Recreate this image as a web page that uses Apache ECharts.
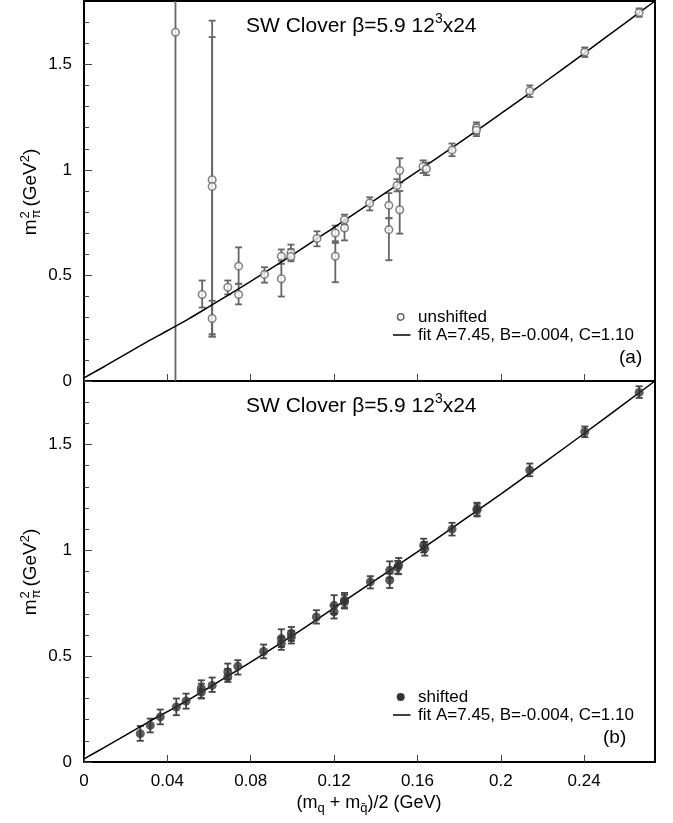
<!DOCTYPE html>
<html><head><meta charset="utf-8">
<script src="https://cdn.jsdelivr.net/npm/echarts@6/dist/echarts.min.js"></script>
<style>html,body{margin:0;padding:0;background:#fff}#c{width:673px;height:823px}</style>
</head><body><div id="c"></div>
<script>
// ---------- data ----------
const unshiftedX  = [0.0439,0.0567,0.0615,0.0615,0.0615,0.069,0.0742,0.0742,0.0866,0.0947,0.0947,0.0993,0.0993,0.1118,0.1206,0.1206,0.125,0.125,0.1371,0.1463,0.1463,0.1502,0.1515,0.1515,0.1627,0.1643,0.1766,0.1883,0.1883,0.2139,0.2403,0.2664];
const unshiftedY  = [1.652,0.41,0.953,0.921,0.296,0.444,0.544,0.41,0.505,0.591,0.484,0.607,0.59,0.675,0.701,0.591,0.764,0.725,0.843,0.832,0.717,0.926,0.997,0.811,1.016,1.005,1.094,1.2,1.188,1.374,1.558,1.745];
const unshiftedLo = [-0.5,0.348,0.21,0.222,0.211,0.41,0.461,0.363,0.466,0.555,0.4,0.575,0.567,0.638,0.662,0.468,0.74,0.666,0.808,0.771,0.572,0.898,0.94,0.698,0.985,0.975,1.065,1.17,1.16,1.345,1.535,1.725];
const unshiftedHi = [3.5,0.476,1.707,1.629,0.38,0.476,0.633,0.46,0.539,0.623,0.57,0.646,0.625,0.709,0.736,0.654,0.788,0.76,0.87,0.89,0.771,0.956,1.055,0.9,1.045,1.035,1.125,1.225,1.215,1.4,1.58,1.765];

const shiftedX  = [0.027,0.0318,0.0366,0.0443,0.049,0.0563,0.0563,0.0615,0.069,0.069,0.0738,0.0862,0.0947,0.0947,0.0995,0.0995,0.1115,0.12,0.12,0.125,0.125,0.1374,0.1467,0.1467,0.151,0.1505,0.163,0.1635,0.1766,0.1886,0.1886,0.2139,0.2403,0.2664];
const shiftedY  = [0.134,0.173,0.213,0.26,0.288,0.347,0.33,0.362,0.425,0.402,0.452,0.522,0.583,0.56,0.607,0.59,0.685,0.74,0.709,0.764,0.756,0.851,0.906,0.859,0.93,0.92,1.024,1.008,1.1,1.197,1.19,1.379,1.56,1.746];
const shiftedLo = [0.1,0.14,0.178,0.221,0.252,0.302,0.3,0.331,0.39,0.378,0.413,0.49,0.543,0.53,0.572,0.56,0.654,0.7,0.678,0.725,0.73,0.82,0.87,0.822,0.887,0.89,0.99,0.975,1.07,1.165,1.16,1.35,1.535,1.72];
const shiftedHi = [0.17,0.205,0.248,0.3,0.323,0.386,0.37,0.399,0.465,0.44,0.481,0.555,0.627,0.59,0.638,0.62,0.717,0.788,0.74,0.799,0.79,0.878,0.948,0.89,0.964,0.95,1.055,1.04,1.13,1.225,1.22,1.41,1.585,1.775];

const fitX = [0,0.01,0.02,0.03,0.04,0.05,0.06,0.07,0.08,0.1,0.12,0.14,0.16,0.18,0.2,0.22,0.24,0.26,0.274];
const fitY = [0.015,0.07,0.127,0.184,0.238,0.293,0.352,0.412,0.472,0.597,0.728,0.86,0.993,1.128,1.266,1.408,1.552,1.698,1.80];

const xTicks = [0,0.04,0.08,0.12,0.16,0.2,0.24];
const yTicks = [0,0.5,1,1.5];
const yMinorTicks = [0.1,0.2,0.3,0.4,0.6,0.7,0.8,0.9,1.1,1.2,1.3,1.4,1.6,1.7];

const titleText = ['SW Clover \u03b2=5.9 12','3','x24'];
const legendUnshifted = 'unshifted';
const legendShifted = 'shifted';
const legendFit = 'fit A=7.45, B=-0.004, C=1.10';

// ---------- helpers ----------
const FONT = '"Liberation Sans", Arial, Helvetica, sans-serif';
const mctx = document.createElement('canvas').getContext('2d');
function tw(t, s){ mctx.font = s + 'px ' + FONT; return mctx.measureText(t).width; }
function txt(t, x, y, s, extra){
  return Object.assign({type:'text', x:x, y:y, silent:true,
    style:{text:t, fill:'#000', font: s + 'px ' + FONT, align:'left', verticalAlign:'middle'}}, extra||{});
}
function row(list, x0, y0){
  let x = x0; const out = [];
  for (const p of list){
    out.push(txt(p.t, x + (p.dx||0), y0 + (p.dy||0), p.s));
    if (p.adv !== false) x += (p.w != null ? p.w : tw(p.t, p.s));
  }
  return out;
}
function rowWidth(list){ let t=0; for (const p of list){ if (p.adv !== false) t += (p.w != null ? p.w : tw(p.t, p.s)); } return t; }
function zip3(a,b,c){ return a.map((v,i)=>[v,b[i],c[i]]); }
function zip2(a,b){ return a.map((v,i)=>[v,b[i]]); }

function errRender(color, capHalf, lw){
  return function(params, api){
    const x = api.value(0), lo = api.value(1), hi = api.value(2);
    const a = api.coord([x, lo]), b = api.coord([x, hi]);
    const s = {stroke: color, lineWidth: lw};
    return {type:'group', children:[
      {type:'line', shape:{x1:a[0], y1:a[1], x2:b[0], y2:b[1]}, style:s},
      {type:'line', shape:{x1:a[0]-capHalf, y1:a[1], x2:a[0]+capHalf, y2:a[1]}, style:s},
      {type:'line', shape:{x1:b[0]-capHalf, y1:b[1], x2:b[0]+capHalf, y2:b[1]}, style:s}
    ]};
  };
}

const GL = 84, GW = 571;
const grids = [
  {left: GL, top: 1, width: GW, height: 380, show:true, borderColor:'#000', borderWidth:2, backgroundColor:'transparent'},
  {left: GL, top: 381, width: GW, height: 381, show:true, borderColor:'#000', borderWidth:2, backgroundColor:'transparent'}
];
function xAx(g, labels){
  return {type:'value', gridIndex:g, min:0, max:0.274,
    axisLine:{show:true, onZero:false, lineStyle:{color:'#000', width:2}},
    axisTick:{show:true, inside:true, length:7, customValues:xTicks, lineStyle:{color:'#444', width:1}},
    axisLabel:{show:labels, customValues:xTicks, fontSize:17, color:'#000', fontFamily:FONT, margin:11},
    splitLine:{show:false}};
}
function yAx(g){
  return {type:'value', gridIndex:g, min:0, max:1.8, position:'left',
    axisLine:{show:true, onZero:false, lineStyle:{color:'#000', width:2}},
    axisTick:{show:true, inside:true, length:8, customValues:yTicks, lineStyle:{color:'#444', width:1}},
    axisLabel:{show:true, customValues:yTicks, fontSize:17, color:'#000', fontFamily:FONT, margin:12},
    splitLine:{show:false}};
}
function yMinor(g){
  return {type:'value', gridIndex:g, min:0, max:1.8, position:'left',
    axisLine:{show:false},
    axisTick:{show:true, inside:true, length:5, customValues:yMinorTicks, lineStyle:{color:'#444', width:1}},
    axisLabel:{show:false}, splitLine:{show:false}};
}

const unsErr = zip3(unshiftedX, unshiftedLo, unshiftedHi);
const shErr = zip3(shiftedX, shiftedLo, shiftedHi);
const fitData = zip2(fitX, fitY);

const series = [
  {type:'custom', xAxisIndex:0, yAxisIndex:0, clip:true, z:1, renderItem: errRender('#666', 3.5, 1.8), data: unsErr, encode:{x:0, y:[1,2]}},
  {type:'line', xAxisIndex:0, yAxisIndex:0, z:2, data: fitData, showSymbol:false, smooth:0.3, lineStyle:{color:'#000', width:1.5}, clip:true},
  {type:'scatter', xAxisIndex:0, yAxisIndex:0, z:3, data: zip2(unshiftedX, unshiftedY), symbol:'circle', symbolSize:7.5, itemStyle:{color:'#fff', borderColor:'#666', borderWidth:1.6}},
  {type:'custom', xAxisIndex:1, yAxisIndex:2, clip:true, z:1, renderItem: errRender('#444', 3.5, 1.8), data: shErr, encode:{x:0, y:[1,2]}},
  {type:'line', xAxisIndex:1, yAxisIndex:2, z:2, data: fitData, showSymbol:false, smooth:0.3, lineStyle:{color:'#000', width:1.5}, clip:true},
  {type:'scatter', xAxisIndex:1, yAxisIndex:2, z:3, data: zip2(shiftedX, shiftedY), symbol:'circle', symbolSize:9, itemStyle:{color:'#333'}}
];

// ---------- text graphics ----------
const graphics = [];
function title(y){
  const s = 21;
  const parts = [{t:titleText[0], s:s},{t:titleText[1], s:14, dy:-7},{t:titleText[2], s:s}];
  return row(parts, 246, y);
}
graphics.push(...title(26));
graphics.push(...title(406));

function yLabel(cx, cy){
  const s = 19, ss = 13;
  const parts = [
    {t:'m', s:s},
    {t:'2', s:ss, dy:-6, adv:false, dx:1},
    {t:'\u03c0', s:ss, dy:5, dx:1, w: tw('\u03c0', ss)+4},
    {t:'(GeV', s:s},
    {t:'2', s:ss, dy:-6},
    {t:')', s:s}
  ];
  const total = rowWidth(parts);
  return {type:'group', x: cx, y: cy + total/2, rotation: Math.PI/2, children: row(parts, 0, 0)};
}
graphics.push(yLabel(31, 192));
graphics.push(yLabel(31, 572));

// x axis title
(function(){
  const s = 18, ss = 13;
  const parts = [
    {t:'(m', s:s}, {t:'q', s:ss, dy:5}, {t:' + m', s:s}, {t:'q\u0304', s:ss, dy:5, w: tw('q', ss)}, {t:')/2 (GeV)', s:s}
  ];
  const total = rowWidth(parts);
  graphics.push(...row(parts, 369 - total/2, 803));
})();

// legends
function legend(y0, filled, label, tag, tagX, tagY){
  const out = [];
  if (filled) out.push({type:'circle', silent:true, shape:{cx:400.7, cy:y0, r:4}, style:{fill:'#333'}});
  else out.push({type:'circle', silent:true, shape:{cx:400.7, cy:y0, r:3.2}, style:{fill:'#fff', stroke:'#666', lineWidth:1.5}});
  out.push(txt(label, 418, y0, 17));
  out.push({type:'line', silent:true, shape:{x1:393, y1:y0+18, x2:410.5, y2:y0+18}, style:{stroke:'#000', lineWidth:1.5}});
  out.push(txt(legendFit, 418, y0 + 18, 17));
  out.push(txt(tag, tagX, tagY, 19));
  return out;
}
graphics.push(...legend(317, false, legendUnshifted, '(a)', 619, 358));
graphics.push(...legend(697, true, legendShifted, '(b)', 603, 738));

const chart = echarts.init(document.getElementById('c'), null, {renderer:'canvas'});
chart.setOption({
  animation:false,
  backgroundColor:'#fff',
  grid: grids,
  xAxis: [xAx(0,false), xAx(1,true)],
  yAxis: [yAx(0), yMinor(0), yAx(1), yMinor(1)],
  series: series,
  graphic: graphics
});
</script>
</body></html>
